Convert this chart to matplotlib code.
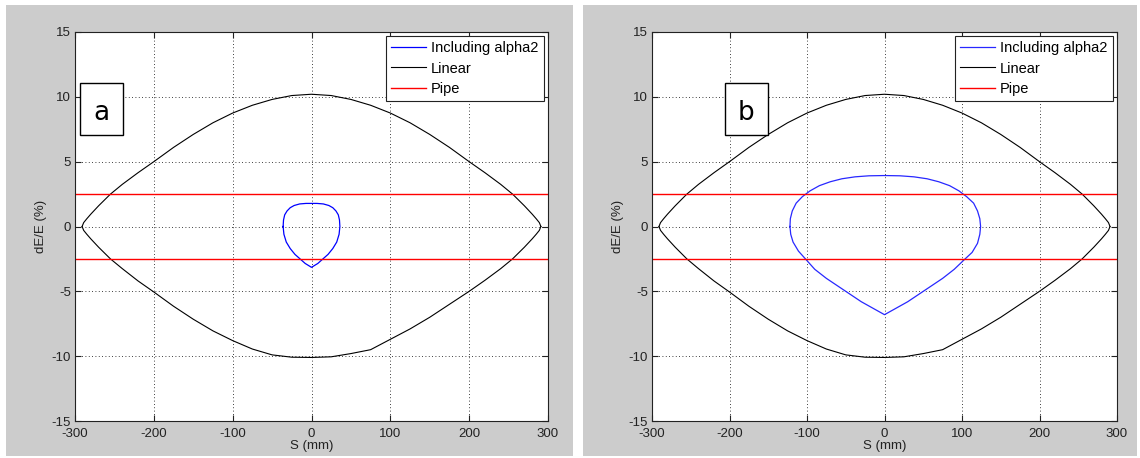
import matplotlib
matplotlib.use("Agg")
import matplotlib.pyplot as plt
from matplotlib.patches import Rectangle
import numpy as np

plt.rcParams['font.family'] = ['Liberation Sans', 'DejaVu Sans']
plt.rcParams['axes.unicode_minus'] = False

# separatrix of the linear bucket
sep_s = [-291, -289, -285, -280, -270, -255, -240, -220, -200, -175, -150, -125,
         -100, -75, -50, -25, 0, 25, 50, 75, 100, 125, 150, 175, 200, 220, 240,
         255, 270, 280, 285, 289, 291]
sep_up = [0.0, 0.3, 0.6, 0.95, 1.6, 2.5, 3.25, 4.15, 5.0, 6.1, 7.1, 8.0,
          8.75, 9.35, 9.8, 10.1, 10.2, 10.1, 9.8, 9.35, 8.75, 8.0, 7.1, 6.1, 5.0, 4.15, 3.25,
          2.5, 1.6, 0.95, 0.6, 0.3, 0.0]
sep_lo = [0.0, -0.3, -0.6, -0.95, -1.6, -2.5, -3.25, -4.2, -5.05, -6.15, -7.15, -8.05,
          -8.8, -9.45, -9.9, -10.08, -10.1, -10.05, -9.8, -9.5, -8.7, -7.9, -7.0, -6.0, -5.0, -4.15, -3.25,
          -2.5, -1.6, -0.95, -0.6, -0.3, 0.0]

pipe = 2.5

# "Including alpha2" contour, panel a (closed loop)
a_s = [-36, -35.5, -34, -31, -27, -22, -15, -7, 0, 7, 15, 22, 27, 31, 34, 35.5, 36,
       35, 32, 27, 21, 14.5, 8, 0, -8, -14.5, -21, -27, -32, -35, -36]
a_d = [0.0, 0.5, 0.9, 1.2, 1.45, 1.62, 1.74, 1.78, 1.78, 1.78, 1.74, 1.62, 1.45, 1.2, 0.9, 0.5, 0.0,
       -0.6, -1.2, -1.7, -2.15, -2.5, -2.85, -3.15, -2.85, -2.5, -2.15, -1.7, -1.2, -0.6, 0.0]

# "Including alpha2" contour, panel b (closed loop)
b_s = [-122, -121.5, -119, -114, -106, -96, -84, -70, -55, -38, -20, 0,
       20, 38, 55, 70, 84, 96, 106, 115, 120, 123, 124,
       123, 120, 113, 104, 90, 75, 60, 45, 30, 15, 0,
       -15, -30, -45, -60, -75, -90, -102, -111, -118, -121, -122]
b_d = [0.0, 0.6, 1.2, 1.8, 2.3, 2.75, 3.15, 3.45, 3.68, 3.83, 3.91, 3.93,
       3.91, 3.83, 3.68, 3.45, 3.15, 2.75, 2.3, 1.8, 1.2, 0.6, 0.0,
       -0.6, -1.3, -2.0, -2.5, -3.3, -4.0, -4.6, -5.2, -5.8, -6.3, -6.8,
       -6.3, -5.8, -5.2, -4.6, -4.0, -3.3, -2.5, -1.9, -1.2, -0.6, 0.0]

xticks = [-300, -200, -100, 0, 100, 200, 300]
yticks = [-15, -10, -5, 0, 5, 10, 15]

fig = plt.figure(figsize=(11.4, 4.58), dpi=100)
fig.patch.set_facecolor('white')

# gray window backgrounds
for x0, x1 in [(6, 573), (583, 1137)]:
    fig.patches.append(Rectangle((x0 / 1140, 2 / 458), (x1 - x0) / 1140, 451 / 458,
                                 transform=fig.transFigure, facecolor='#cccccc',
                                 edgecolor='none', zorder=-10))

panels = [
    ([75 / 1140, 37 / 458, 473 / 1140, 389 / 458], a_s, a_d, '#0000ff', 'a', 80),
    ([652 / 1140, 37 / 458, 465 / 1140, 389 / 458], b_s, b_d, '#2828ff', 'b', 725),
]

for rect, cs, cd, ccol, letter, bx in panels:
    ax = fig.add_axes(rect)
    ax.set_facecolor('white')
    ax.plot(cs, cd, color=ccol, lw=0.9, label='Including alpha2')
    ax.plot(sep_s, sep_up, color='black', lw=0.8, label='Linear')
    ax.plot(sep_s, sep_lo, color='black', lw=0.8)
    ax.axhline(pipe, color='#ff0000', lw=1.0, label='Pipe')
    ax.axhline(-pipe, color='#ff0000', lw=1.0)
    ax.set_xlim(-300, 300)
    ax.set_ylim(-15, 15)
    ax.set_xticks(xticks)
    ax.set_yticks(yticks)
    ax.grid(True, color='black', linestyle=(0, (1, 3)), lw=0.6)
    ax.tick_params(direction='in', length=4, labelsize=9.5, colors='#222222',
                   top=True, right=True, pad=3)
    ax.tick_params(axis='x', pad=5)
    for sp in ax.spines.values():
        sp.set_color('#222222')
        sp.set_linewidth(0.8)
    ax.set_xlabel('S (mm)', fontsize=9.5, color='#222222', labelpad=0)
    ax.set_ylabel('dE/E (%)', fontsize=9.5, color='#222222', labelpad=3)
    leg = ax.legend(loc='upper right', fontsize=10.5, frameon=True, fancybox=False,
                    framealpha=1, edgecolor='#222222', borderaxespad=0.3,
                    handlelength=2.4, handletextpad=0.35, labelspacing=0.42,
                    borderpad=0.35)
    leg.get_frame().set_linewidth(0.8)
    # letter box
    x0 = (bx - rect[0] * 1140) / (rect[2] * 1140)
    w = 43 / (rect[2] * 1140)
    y0 = (421 - 135) / 389
    h = 52 / 389
    ax.add_patch(Rectangle((x0, y0), w, h, transform=ax.transAxes,
                           facecolor='white', edgecolor='black', lw=1.0, zorder=5))
    ax.text(x0 + w / 2, y0 + h / 2 - 0.01, letter, transform=ax.transAxes,
            fontsize=19, ha='center', va='center', zorder=6, family='DejaVu Sans')

fig.savefig('out.png', dpi=100, facecolor='white')
